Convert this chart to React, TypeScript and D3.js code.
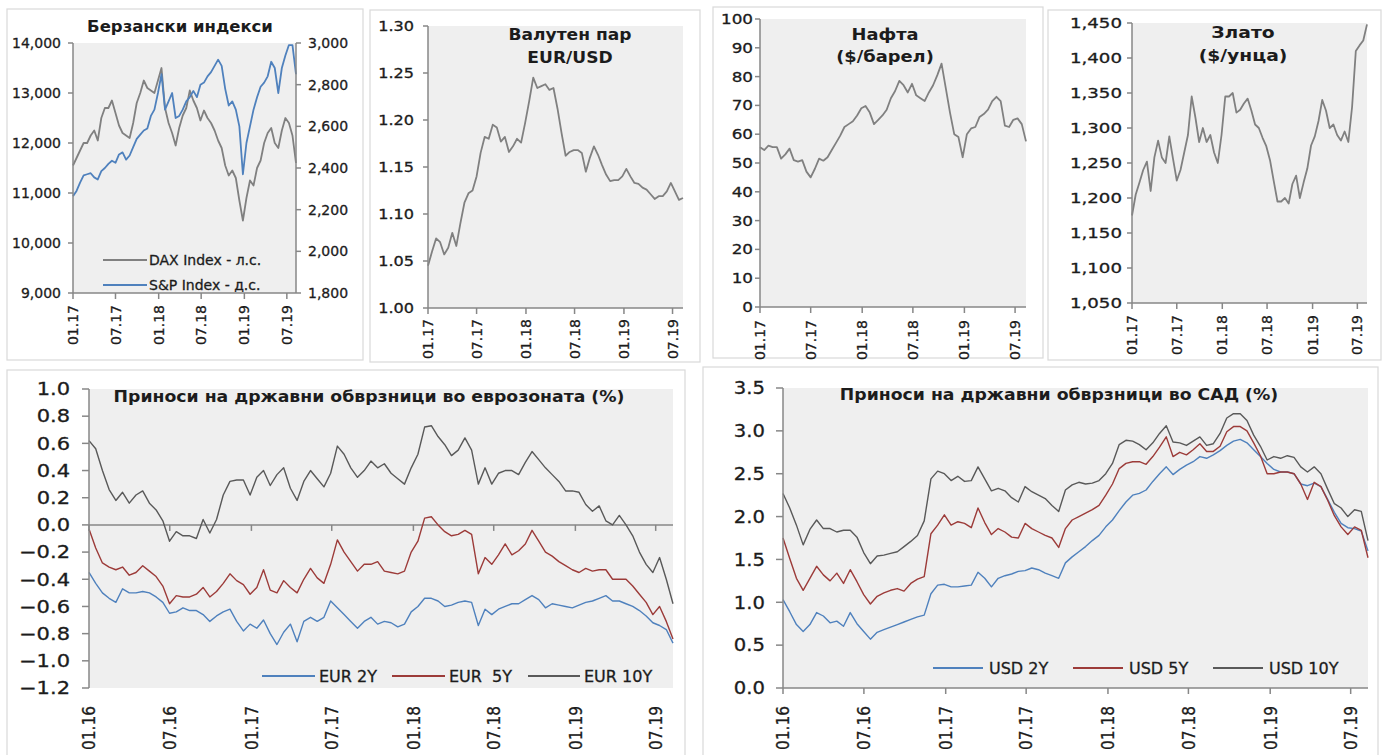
import React from 'react';
import * as d3 from 'd3';

const FONT = "'DejaVu Sans', Verdana, sans-serif";

// ---- time frames -------------------------------------------------------
const TOP_START = new Date(2017, 0, 1);
const TOP_END = new Date(2019, 7, 9);
const BOTTOM_START = new Date(2016, 0, 1);
const BOTTOM_END = new Date(2019, 7, 9);
const TOP_TICKS = ['01.17', '07.17', '01.18', '07.18', '01.19', '07.19'];
const BOTTOM_TICKS = ['01.16', '07.16', '01.17', '07.17', '01.18', '07.18', '01.19', '07.19'];

// ---- stock indices (two readings per month) ----------------------------
const DAX = [
  11550, 11700, 11850, 12000, 12000, 12150, 12250, 12050, 12500, 12700,
  12700, 12850, 12600, 12350, 12200, 12150, 12100, 12400, 12800, 13000,
  13250, 13100, 13050, 13000, 13250, 13500, 12700, 12400, 12200, 11950,
  12300, 12550, 12700, 13050, 12850, 12700, 12450, 12650, 12500, 12400,
  12250, 12050, 11900, 11550, 11350, 11450, 11300, 10850, 10450, 10900,
  11250, 11150, 11500, 11650, 12000, 12200, 12300, 12000, 11900, 12250,
  12500, 12400, 12150, 11600,
];
const SPX = [
  2265, 2290, 2330, 2365, 2370, 2375, 2355, 2345, 2385, 2400,
  2420, 2435, 2425, 2465, 2475, 2440, 2460, 2500, 2540, 2560,
  2580, 2590, 2650, 2680, 2760, 2850, 2680, 2720, 2760, 2640,
  2650, 2680, 2720, 2740, 2770, 2740, 2800, 2810, 2840, 2860,
  2890, 2920, 2890, 2780, 2700, 2720, 2680, 2600, 2370, 2520,
  2600, 2680, 2740, 2790, 2810, 2840, 2910, 2880, 2760, 2880,
  2940, 2990, 2990, 2850,
];
const EURUSD = [
  1.045, 1.060, 1.074, 1.070, 1.057, 1.064, 1.080, 1.066, 1.090, 1.112,
  1.122, 1.125, 1.140, 1.165, 1.182, 1.180, 1.195, 1.192, 1.177, 1.182,
  1.166, 1.172, 1.180, 1.176, 1.197, 1.220, 1.245, 1.234, 1.236, 1.238,
  1.232, 1.234, 1.212, 1.186, 1.162, 1.166, 1.168, 1.168, 1.165, 1.145,
  1.160, 1.172, 1.163, 1.152, 1.142, 1.135, 1.136, 1.136, 1.140, 1.148,
  1.140, 1.133, 1.132, 1.128, 1.126, 1.121, 1.116, 1.119, 1.119, 1.124,
  1.133, 1.124, 1.115, 1.117,
];
const BRENT = [
  55.5, 54.5, 56.0, 55.5, 55.5, 51.5, 53.0, 55.0, 51.0, 50.5,
  51.0, 47.0, 45.0, 48.0, 51.5, 50.8, 52.0, 54.5, 57.0, 59.5,
  62.5, 63.5, 64.5, 66.5, 69.0, 69.8, 67.5, 63.5, 65.0, 66.5,
  68.5, 72.5, 75.0, 78.5, 77.0, 74.5, 77.5, 73.5, 72.5, 71.5,
  74.5, 77.0, 80.5, 84.5, 76.0, 67.5, 60.0, 59.0, 52.0, 60.0,
  62.0, 62.5, 66.0, 67.0, 68.5, 71.5, 73.0, 71.5, 63.0, 62.5,
  65.0, 65.5, 63.5, 57.5,
];
const GOLD = [
  1175, 1205, 1222, 1240, 1252, 1210, 1258, 1282, 1258, 1250,
  1288, 1256, 1225, 1240, 1265, 1290, 1345, 1315, 1280, 1300,
  1280, 1290, 1265, 1250, 1290, 1345, 1345, 1350, 1322, 1326,
  1335, 1342, 1325, 1305, 1300, 1286, 1274, 1254, 1224, 1195,
  1195, 1200, 1192, 1220, 1232, 1200, 1222, 1242, 1275, 1288,
  1310, 1340, 1325, 1300, 1305, 1290, 1282, 1295, 1280, 1330,
  1410, 1418, 1425, 1448,
];

// ---- government bond yields, % (two readings per month) ----------------
const EUR_2Y = [
  -0.35, -0.43, -0.50, -0.54, -0.57, -0.47, -0.50, -0.50, -0.49, -0.50,
  -0.53, -0.57, -0.65, -0.64, -0.61, -0.63, -0.63, -0.66, -0.71, -0.67,
  -0.64, -0.62, -0.71, -0.78, -0.73, -0.76, -0.70, -0.80, -0.88, -0.79,
  -0.73, -0.86, -0.71, -0.68, -0.71, -0.68, -0.56, -0.61, -0.66, -0.71,
  -0.76, -0.71, -0.68, -0.73, -0.71, -0.72, -0.75, -0.73, -0.64, -0.60,
  -0.54, -0.54, -0.56, -0.60, -0.59, -0.57, -0.56, -0.57, -0.74, -0.62,
  -0.66, -0.62, -0.60, -0.58, -0.58, -0.55, -0.52, -0.55, -0.61, -0.58,
  -0.59, -0.60, -0.61, -0.59, -0.57, -0.56, -0.54, -0.52, -0.56, -0.56,
  -0.58, -0.60, -0.63, -0.67, -0.72, -0.74, -0.77, -0.87,
];
const EUR_5Y = [
  -0.03, -0.17, -0.28, -0.31, -0.33, -0.31, -0.37, -0.35, -0.30, -0.34,
  -0.38, -0.45, -0.58, -0.52, -0.53, -0.53, -0.51, -0.46, -0.53, -0.49,
  -0.43, -0.36, -0.41, -0.44, -0.51, -0.46, -0.33, -0.48, -0.50, -0.41,
  -0.46, -0.50, -0.40, -0.32, -0.39, -0.43, -0.29, -0.11, -0.20, -0.27,
  -0.34, -0.29, -0.29, -0.27, -0.34, -0.35, -0.36, -0.34, -0.20, -0.12,
  0.05, 0.06, 0.00, -0.05, -0.08, -0.07, -0.04, -0.07, -0.36, -0.24,
  -0.29, -0.22, -0.14, -0.22, -0.19, -0.14, -0.04, -0.12, -0.20, -0.23,
  -0.27, -0.30, -0.33, -0.35, -0.32, -0.34, -0.33, -0.33, -0.40, -0.40,
  -0.40, -0.45, -0.51, -0.57, -0.66, -0.60, -0.71, -0.84,
];
const EUR_10Y = [
  0.62, 0.56, 0.40, 0.26, 0.18, 0.24, 0.16, 0.22, 0.25, 0.16,
  0.11, 0.03, -0.12, -0.05, -0.08, -0.08, -0.10, 0.04, -0.06, 0.04,
  0.22, 0.32, 0.33, 0.33, 0.22, 0.35, 0.40, 0.29, 0.37, 0.42,
  0.27, 0.18, 0.32, 0.40, 0.34, 0.28, 0.38, 0.58, 0.52, 0.42,
  0.35, 0.40, 0.47, 0.42, 0.45, 0.38, 0.34, 0.30, 0.42, 0.52,
  0.72, 0.73, 0.65, 0.59, 0.51, 0.55, 0.64, 0.55, 0.30, 0.42,
  0.30, 0.38, 0.40, 0.40, 0.37, 0.46, 0.54, 0.48, 0.42, 0.37,
  0.32, 0.25, 0.25, 0.24, 0.15, 0.10, 0.14, 0.03, 0.00, 0.07,
  0.00, -0.08, -0.20, -0.29, -0.35, -0.24, -0.40, -0.58,
];
const USD_2Y = [
  1.03, 0.89, 0.74, 0.66, 0.74, 0.88, 0.84, 0.76, 0.78, 0.72,
  0.88, 0.75, 0.66, 0.57, 0.65, 0.68, 0.71, 0.74, 0.77, 0.80,
  0.83, 0.85, 1.10, 1.20, 1.21, 1.18, 1.18, 1.19, 1.20, 1.35,
  1.28, 1.18, 1.28, 1.31, 1.33, 1.36, 1.37, 1.40, 1.38, 1.34,
  1.31, 1.28, 1.46, 1.53, 1.59, 1.65, 1.72, 1.78, 1.88, 1.96,
  2.07, 2.17, 2.25, 2.27, 2.31, 2.41, 2.50, 2.58, 2.49, 2.55,
  2.60, 2.64, 2.70, 2.68, 2.72, 2.77, 2.83, 2.88, 2.90, 2.86,
  2.78, 2.70, 2.62, 2.55, 2.52, 2.52, 2.50, 2.38, 2.36, 2.39,
  2.35, 2.20, 2.05, 1.92, 1.87, 1.86, 1.83, 1.60,
];
const USD_5Y = [
  1.75, 1.51, 1.28, 1.14, 1.28, 1.42, 1.32, 1.25, 1.34, 1.22,
  1.38, 1.24, 1.09, 0.98, 1.07, 1.11, 1.14, 1.16, 1.13, 1.22,
  1.27, 1.30, 1.80, 1.90, 2.02, 1.90, 1.94, 1.92, 1.87, 2.10,
  1.93, 1.79, 1.86, 1.82, 1.76, 1.75, 1.92, 1.86, 1.82, 1.78,
  1.75, 1.64, 1.86, 1.96, 2.00, 2.04, 2.08, 2.13, 2.25, 2.38,
  2.56, 2.62, 2.64, 2.64, 2.61, 2.70, 2.81, 2.93, 2.70, 2.75,
  2.72, 2.78, 2.85, 2.76, 2.76, 2.82, 2.99, 3.05, 3.05, 3.00,
  2.86, 2.71, 2.50, 2.50, 2.52, 2.52, 2.50, 2.38, 2.20, 2.40,
  2.35, 2.19, 2.01, 1.88, 1.79, 1.88, 1.84, 1.52,
];
const USD_10Y = [
  2.27, 2.10, 1.90, 1.67, 1.85, 1.96, 1.86, 1.86, 1.82, 1.84,
  1.84, 1.76, 1.58, 1.45, 1.54, 1.55, 1.57, 1.59, 1.65, 1.71,
  1.78, 1.95, 2.44, 2.53, 2.50, 2.42, 2.47, 2.41, 2.42, 2.58,
  2.44, 2.30, 2.33, 2.30, 2.22, 2.17, 2.35, 2.29, 2.25, 2.21,
  2.13, 2.06, 2.31, 2.37, 2.40, 2.38, 2.39, 2.42, 2.50, 2.62,
  2.84, 2.89, 2.88, 2.84, 2.78, 2.86, 2.97, 3.06, 2.87, 2.86,
  2.83, 2.88, 2.93, 2.83, 2.85, 2.97, 3.15, 3.20, 3.20, 3.12,
  2.95, 2.82, 2.66, 2.70, 2.68, 2.71, 2.69, 2.58, 2.52, 2.58,
  2.50, 2.32, 2.15, 2.10, 2.00, 2.08, 2.06, 1.72,
];

// ---- axis tick values --------------------------------------------------
const DAX_TICKS = [9000, 10000, 11000, 12000, 13000, 14000];
const SPX_TICKS = [1800, 2000, 2200, 2400, 2600, 2800, 3000];
const EURUSD_TICKS = [1.0, 1.05, 1.1, 1.15, 1.2, 1.25, 1.3];
const BRENT_TICKS = [0, 10, 20, 30, 40, 50, 60, 70, 80, 90, 100];
const GOLD_TICKS = [1050, 1100, 1150, 1200, 1250, 1300, 1350, 1400, 1450];
const EUR_YIELD_TICKS = [-1.2, -1.0, -0.8, -0.6, -0.4, -0.2, 0, 0.2, 0.4, 0.6, 0.8, 1.0];
const USD_YIELD_TICKS = [0, 0.5, 1.0, 1.5, 2.0, 2.5, 3.0, 3.5];

// ---- styles -------------------------------------------------------------
const GRAY = '#808080';
const BLUE = '#4f81bd';
const RED = '#9c3b39';
const DARK = '#595959';
const AXIS = '#878787';
const FRAME = '#d9d9d9';
const PLOT_BG = '#efefef';
const INK = '#1c1c1c';

const parseTick = d3.timeParse('%m.%y');

function spreadDates(start: Date, end: Date, n: number): Date[] {
  const s = d3.scaleLinear().domain([0, n - 1]).range([+start, +end]);
  return d3.range(n).map((i) => new Date(s(i)));
}

interface Axis {
  domain: [number, number];
  ticks: number[];
  format: (v: number) => string;
}
interface Line {
  values: number[];
  color: string;
  width: number;
  right?: boolean;
}
interface LegendItem {
  label: string;
  color: string;
  x1: number;
  x2: number;
  y: number;
}
interface PanelProps {
  frame: [number, number, number, number];
  plot: { l: number; r: number; t: number; b: number };
  dates: Date[];
  xDomain: [Date, Date];
  xTicks: string[];
  left: Axis;
  right?: Axis;
  baseline?: number;
  lines: Line[];
  font: number;
  tickSx: number;
  titleSx: number;
  dateLen?: number;
  gap: number;
  tickLen: number;
  labelTop: number;
  titles: { text: string; x: number; y: number }[];
  titleFont: number;
  legend?: LegendItem[];
  legendFont?: number;
  legendGap?: number;
}

// regular labels get a hairline outline so they read a little heavier
const inkStroke = { stroke: INK, strokeWidth: 0.3 };

function Panel(p: PanelProps) {
  const { plot } = p;
  const x = d3.scaleTime().domain(p.xDomain).range([plot.l, plot.r]);
  const yL = d3.scaleLinear().domain(p.left.domain).range([plot.b, plot.t]);
  const yR = p.right ? d3.scaleLinear().domain(p.right.domain).range([plot.b, plot.t]) : null;
  const axisY = yL(p.baseline ?? p.left.domain[0]);
  const zeroInside = p.baseline !== undefined && p.baseline !== p.left.domain[0];

  const path = (ln: Line) => {
    const y = ln.right && yR ? yR : yL;
    return d3
      .line<number>()
      .x((_, i) => x(p.dates[i]))
      .y((v) => y(v))(ln.values) as string;
  };

  return (
    <g>
      <rect x={p.frame[0]} y={p.frame[1]} width={p.frame[2]} height={p.frame[3]} fill="#fff" stroke={FRAME} strokeWidth={1.2} />
      <rect x={plot.l} y={plot.t} width={plot.r - plot.l} height={plot.b - plot.t} fill={PLOT_BG} />
      {zeroInside && <line x1={plot.l} x2={plot.r} y1={axisY} y2={axisY} stroke={AXIS} strokeWidth={1.5} />}
      {p.lines.map((ln, i) => (
        <path key={i} d={path(ln)} fill="none" stroke={ln.color} strokeWidth={ln.width} strokeLinejoin="round" />
      ))}

      {/* left value axis */}
      <line x1={plot.l} x2={plot.l} y1={plot.t} y2={plot.b} stroke={AXIS} strokeWidth={1.5} />
      {p.left.ticks.map((t) => (
        <g key={'l' + t}>
          <line x1={plot.l - p.tickLen} x2={plot.l} y1={yL(t)} y2={yL(t)} stroke={AXIS} strokeWidth={1.5} />
          <text
            transform={`translate(${plot.l - p.gap},${yL(t)}) scale(${p.tickSx},1)`}
            textAnchor="end"
            dy="0.36em"
            fontSize={p.font}
            fill={INK}
            {...inkStroke}
          >
            {p.left.format(t)}
          </text>
        </g>
      ))}

      {/* right value axis */}
      {p.right && yR && (
        <g>
          <line x1={plot.r} x2={plot.r} y1={plot.t} y2={plot.b} stroke={AXIS} strokeWidth={1.5} />
          {p.right.ticks.map((t) => (
            <g key={'r' + t}>
              <line x1={plot.r} x2={plot.r + p.tickLen} y1={yR(t)} y2={yR(t)} stroke={AXIS} strokeWidth={1.5} />
              <text
                transform={`translate(${plot.r + p.gap},${yR(t)}) scale(${p.tickSx},1)`}
                dy="0.36em"
                fontSize={p.font}
                fill={INK}
                {...inkStroke}
              >
                {p.right!.format(t)}
              </text>
            </g>
          ))}
        </g>
      )}

      {/* date axis */}
      {!zeroInside && <line x1={plot.l} x2={plot.r} y1={axisY} y2={axisY} stroke={AXIS} strokeWidth={1.5} />}
      {p.xTicks.map((lbl) => {
        const d = parseTick(lbl) as Date;
        const xv = x(d);
        return (
          <g key={lbl}>
            <line x1={xv} x2={xv} y1={axisY} y2={axisY + 6} stroke={AXIS} strokeWidth={1.5} />
            <text
              transform={`translate(${xv},${p.labelTop}) rotate(-90) scale(${p.dateLen ?? 1},1)`}
              textAnchor="end"
              dy="0.36em"
              fontSize={p.font}
              fill={INK}
              {...inkStroke}
            >
              {lbl}
            </text>
          </g>
        );
      })}

      {p.titles.map((t) => (
        <text
          key={t.text}
          transform={`translate(${t.x},${t.y}) scale(${p.titleSx},1)`}
          textAnchor="middle"
          fontSize={p.titleFont}
          fontWeight="bold"
          fill={INK}
        >
          {t.text}
        </text>
      ))}

      {p.legend &&
        p.legend.map((it) => (
          <g key={it.label}>
            <line x1={it.x1} x2={it.x2} y1={it.y} y2={it.y} stroke={it.color} strokeWidth={2} />
            <text
              x={it.x2 + (p.legendGap ?? 4)}
              y={it.y}
              dy="0.36em"
              fontSize={p.legendFont ?? p.font}
              fill={INK}
              {...inkStroke}
              style={{ whiteSpace: 'pre' }}
            >
              {it.label}
            </text>
          </g>
        ))}
    </g>
  );
}

const thousands = d3.format(',');
const two = d3.format('.2f');
const one = d3.format('.1f');
const int = d3.format('d');

export default function App() {
  const topDates = spreadDates(TOP_START, TOP_END, DAX.length);
  const botDates = spreadDates(BOTTOM_START, BOTTOM_END, EUR_2Y.length);
  const topDomain: [Date, Date] = [TOP_START, TOP_END];
  const botDomain: [Date, Date] = [BOTTOM_START, BOTTOM_END];

  return (
    <svg
      width={1384}
      height={755}
      viewBox="0 0 1384 755"
      style={{ position: 'absolute', left: 0, top: 0, background: '#fff' }}
      fontFamily={FONT}
    >
      <Panel
        frame={[7, 9, 356, 351]}
        plot={{ l: 73, r: 296, t: 43, b: 293 }}
        dates={topDates}
        xDomain={topDomain}
        xTicks={TOP_TICKS}
        left={{ domain: [9000, 14000], ticks: DAX_TICKS, format: thousands }}
        right={{ domain: [1800, 3000], ticks: SPX_TICKS, format: thousands }}
        lines={[
          { values: DAX, color: GRAY, width: 1.8 },
          { values: SPX, color: BLUE, width: 1.8, right: true },
        ]}
        font={14}
        tickSx={1}
        titleSx={1.1}
        gap={12}
        tickLen={5}
        labelTop={305}
        titles={[{ text: 'Берзански индекси', x: 180, y: 32 }]}
        titleFont={15}
        legend={[
          { label: 'DAX Index - л.с.', color: GRAY, x1: 103, x2: 147, y: 260 },
          { label: 'S&P Index - д.с.', color: BLUE, x1: 103, x2: 147, y: 285 },
        ]}
        legendFont={14}
        legendGap={2}
      />
      <Panel
        frame={[370, 10, 330, 352]}
        plot={{ l: 428, r: 683, t: 26, b: 308 }}
        dates={topDates}
        xDomain={topDomain}
        xTicks={TOP_TICKS}
        left={{ domain: [1.0, 1.3], ticks: EURUSD_TICKS, format: two }}
        lines={[{ values: EURUSD, color: GRAY, width: 1.8 }]}
        font={14}
        tickSx={1.15}
        titleSx={1.14}
        gap={14}
        tickLen={5}
        labelTop={319}
        titles={[
          { text: 'Валутен пар', x: 570, y: 40 },
          { text: 'EUR/USD', x: 570, y: 63 },
        ]}
        titleFont={15}
      />
      <Panel
        frame={[713, 7, 330, 351]}
        plot={{ l: 760, r: 1026, t: 19, b: 307 }}
        dates={topDates}
        xDomain={topDomain}
        xTicks={TOP_TICKS}
        left={{ domain: [0, 100], ticks: BRENT_TICKS, format: int }}
        lines={[{ values: BRENT, color: GRAY, width: 1.8 }]}
        font={14}
        tickSx={1.2}
        titleSx={1.19}
        gap={7}
        tickLen={5}
        labelTop={320}
        titles={[
          { text: 'Нафта', x: 885, y: 40 },
          { text: '($/барел)', x: 885, y: 62 },
        ]}
        titleFont={15}
      />
      <Panel
        frame={[1048, 10, 333, 350]}
        plot={{ l: 1132, r: 1367, t: 23, b: 303 }}
        dates={topDates}
        xDomain={topDomain}
        xTicks={TOP_TICKS}
        left={{ domain: [1050, 1450], ticks: GOLD_TICKS, format: thousands }}
        lines={[{ values: GOLD, color: GRAY, width: 1.8 }]}
        font={14}
        tickSx={1.3}
        titleSx={1.25}
        gap={10}
        tickLen={5}
        labelTop={315}
        titles={[
          { text: 'Злато', x: 1243, y: 38 },
          { text: '($/унца)', x: 1243, y: 61 },
        ]}
        titleFont={15}
      />
      <Panel
        frame={[7, 370, 678, 400]}
        plot={{ l: 89, r: 673, t: 389, b: 688 }}
        dates={botDates}
        xDomain={botDomain}
        xTicks={BOTTOM_TICKS}
        left={{ domain: [-1.2, 1.0], ticks: EUR_YIELD_TICKS, format: one }}
        baseline={0}
        lines={[
          { values: EUR_2Y, color: BLUE, width: 1.4 },
          { values: EUR_5Y, color: RED, width: 1.4 },
          { values: EUR_10Y, color: DARK, width: 1.4 },
        ]}
        font={17.5}
        tickSx={1.2}
        titleSx={1.08}
        dateLen={0.88}
        gap={19}
        tickLen={7}
        labelTop={706}
        titles={[{ text: 'Приноси на државни обврзници во еврозоната (%)', x: 369, y: 402 }]}
        titleFont={16}
        legend={[
          { label: 'EUR 2Y', color: BLUE, x1: 262, x2: 315, y: 676 },
          { label: 'EUR  5Y', color: RED, x1: 392, x2: 445, y: 676 },
          { label: 'EUR 10Y', color: DARK, x1: 528, x2: 580, y: 676 },
        ]}
        legendFont={16}
        legendGap={4}
      />
      <Panel
        frame={[703, 367, 675, 400]}
        plot={{ l: 783, r: 1368, t: 388, b: 688 }}
        dates={botDates}
        xDomain={botDomain}
        xTicks={BOTTOM_TICKS}
        left={{ domain: [0, 3.5], ticks: USD_YIELD_TICKS, format: one }}
        lines={[
          { values: USD_2Y, color: BLUE, width: 1.4 },
          { values: USD_5Y, color: RED, width: 1.4 },
          { values: USD_10Y, color: DARK, width: 1.4 },
        ]}
        font={17.5}
        tickSx={1.12}
        titleSx={1.08}
        dateLen={0.88}
        gap={18}
        tickLen={7}
        labelTop={706}
        titles={[{ text: 'Приноси на државни обврзници во САД (%)', x: 1059, y: 400 }]}
        titleFont={16}
        legend={[
          { label: 'USD 2Y', color: BLUE, x1: 933, x2: 983, y: 668 },
          { label: 'USD 5Y', color: RED, x1: 1073, x2: 1123, y: 668 },
          { label: 'USD 10Y', color: DARK, x1: 1213, x2: 1263, y: 668 },
        ]}
        legendFont={16}
        legendGap={6}
      />
    </svg>
  );
}
